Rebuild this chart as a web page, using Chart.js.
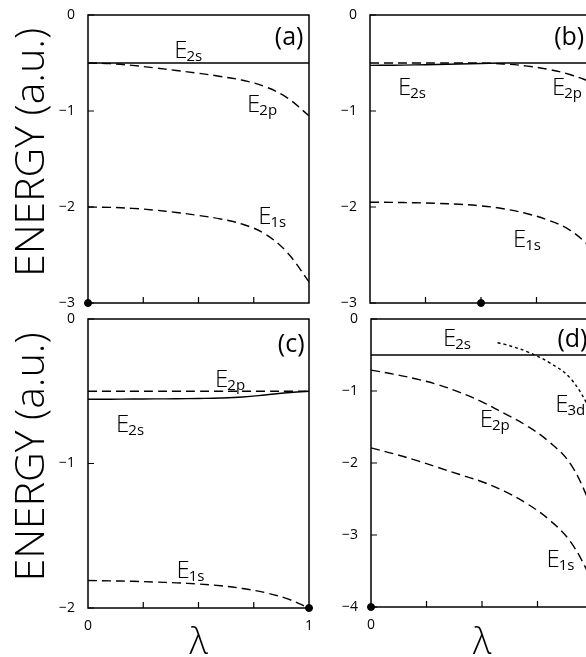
<!DOCTYPE html>
<html>
<head>
<meta charset="utf-8">
<script src="https://cdn.jsdelivr.net/npm/chart.js@4.4.0/dist/chart.umd.min.js"></script>
<style>
html, body { margin: 0; padding: 0; background: #fff; overflow: hidden; width: 586px; height: 657px; }
canvas { position: absolute; }
</style>
</head>
<body>
<canvas id="pa" width="320" height="320" style="left:0;top:0"></canvas>
<canvas id="pb" width="320" height="320" style="left:290px;top:0"></canvas>
<canvas id="pc" width="320" height="370" style="left:0;top:300px"></canvas>
<canvas id="pd" width="320" height="370" style="left:290px;top:300px"></canvas>
<script>
// --- DADOS ---
const lam = [0, 0.1, 0.2, 0.3, 0.4, 0.5, 0.6, 0.7, 0.8, 0.9, 1.0];
const lam3d = [0.57, 0.6, 0.7, 0.8, 0.9, 1.0];

// (a)
const aE2s = [-0.5, -0.5, -0.5, -0.5, -0.5, -0.5, -0.5, -0.5, -0.5, -0.5, -0.5];
const aE2p = [-0.5, -0.507, -0.525, -0.55, -0.578, -0.607, -0.64, -0.68, -0.745, -0.86, -1.05];
const aE1s = [-2.0, -2.004, -2.014, -2.032, -2.057, -2.088, -2.125, -2.18, -2.28, -2.47, -2.78];
// (b)
const bE2s = [-0.525, -0.523, -0.52, -0.515, -0.51, -0.505, -0.5, -0.5, -0.5, -0.5, -0.5];
const bE2p = [-0.5, -0.5, -0.5, -0.5, -0.5, -0.5, -0.51, -0.53, -0.565, -0.62, -0.7];
const bE1s = [-1.95, -1.952, -1.956, -1.962, -1.972, -1.988, -2.018, -2.065, -2.135, -2.24, -2.43];
// (c)
const cE2s = [-0.555, -0.555, -0.554, -0.553, -0.552, -0.55, -0.547, -0.54, -0.526, -0.51, -0.5];
const cE2p = [-0.5, -0.5, -0.5, -0.5, -0.5, -0.5, -0.5, -0.5, -0.5, -0.5, -0.5];
const cE1s = [-1.81, -1.812, -1.815, -1.82, -1.826, -1.834, -1.846, -1.865, -1.893, -1.935, -2.0];
// (d)
const dE2s = [-0.5, -0.5, -0.5, -0.5, -0.5, -0.5, -0.5, -0.5, -0.5, -0.5, -0.5];
const dE3d = [-0.33, -0.35, -0.45, -0.6, -0.83, -1.32];
const dE2p = [-0.71, -0.765, -0.83, -0.91, -1.02, -1.15, -1.31, -1.48, -1.7, -2.02, -2.65];
const dE1s = [-1.79, -1.87, -1.96, -2.06, -2.16, -2.26, -2.39, -2.56, -2.78, -3.1, -3.65];

// pontos marcados
const dotA = [0, -3];
const dotB = [0.5, -3];
const dotC = [1, -2];
const dotD = [0, -4];

// rótulos das curvas (posição em coordenadas dos dados)
const labA = [['E', '2s', 0.39, -0.45], ['E', '2p', 0.72, -1.01], ['E', '1s', 0.77, -2.18]];
const labB = [['E', '2s', 0.126, -0.83], ['E', '2p', 0.82, -0.83], ['E', '1s', 0.644, -2.42]];
const labC = [['E', '2p', 0.575, -0.47], ['E', '2s', 0.127, -0.78], ['E', '1s', 0.40, -1.79]];
const labD = [['E', '2s', 0.324, -0.375], ['E', '3d', 0.83, -1.29], ['E', '2p', 0.49, -1.5], ['E', '1s', 0.79, -3.44]];

const FONTE = "'Open Sans', 'DejaVu Sans', sans-serif";

function pts(xs, ys) { return xs.map((x, i) => ({ x, y: ys[i] })); }

function curva(xs, ys, estilo) {
    const dash = estilo === 'solid' ? [] : (estilo === 'dot' ? [3, 3] : [9, 5]);
    return {
        data: pts(xs, ys),
        borderColor: '#000',
        borderWidth: 1.4,
        borderDash: dash,
        pointRadius: 0,
        fill: false,
        tension: 0.4
    };
}

function ponto(p) {
    return {
        data: [{ x: p[0], y: p[1] }],
        showLine: false,
        pointRadius: 3.5,
        pointBackgroundColor: '#000',
        pointBorderColor: '#000',
        clip: false
    };
}

// moldura, marcas internas, rótulos com índice
const deco = {
    id: 'deco',
    afterDatasetsDraw(chart, args, opts) {
        const { ctx, chartArea: a, scales: { x, y } } = chart;
        ctx.save();
        ctx.strokeStyle = '#000';
        ctx.lineWidth = 1.5;
        ctx.strokeRect(a.left, a.top, a.right - a.left, a.bottom - a.top);
        ctx.lineWidth = 1.2;
        ctx.beginPath();
        x.ticks.forEach(t => {
            if (t.value <= 0 || t.value >= 1) return;
            const px = x.getPixelForValue(t.value);
            ctx.moveTo(px, a.bottom); ctx.lineTo(px, a.bottom - 6);
        });
        y.ticks.forEach(t => {
            const py = y.getPixelForValue(t.value);
            ctx.moveTo(a.left, py); ctx.lineTo(a.left + 6, py);
        });
        ctx.stroke();

        ctx.fillStyle = '#000';
        ctx.textBaseline = 'alphabetic';
        opts.labels.forEach(([m, s, lx, ly]) => {
            const px = x.getPixelForValue(lx), py = y.getPixelForValue(ly);
            ctx.font = '300 24px ' + FONTE;
            ctx.textAlign = 'left';
            ctx.fillText(m, px, py);
            const w = ctx.measureText(m).width;
            ctx.font = '400 15px ' + FONTE;
            ctx.fillText(s, px + w - 1, py + 3);
        });
        ctx.font = '400 25px ' + FONTE;
        ctx.textAlign = 'right';
        ctx.fillText(opts.letter, x.getPixelForValue(opts.letterAt[0]), y.getPixelForValue(opts.letterAt[1]));
        ctx.restore();
    }
};

function painel(id, cfg) {
    return new Chart(document.getElementById(id), {
        type: 'line',
        data: { datasets: cfg.datasets },
        options: {
            responsive: false,
            animation: false,
            devicePixelRatio: 1,
            layout: { padding: cfg.pad },
            plugins: {
                legend: { display: false },
                tooltip: { enabled: false },
                deco: { labels: cfg.labels, letter: cfg.letter, letterAt: cfg.letterAt }
            },
            scales: {
                x: {
                    type: 'linear', min: 0, max: 1,
                    grid: { display: false }, border: { display: false },
                    ticks: {
                        stepSize: 0.25, autoSkip: false, maxRotation: 0,
                        display: cfg.xLabels, padding: 2, color: '#000',
                        font: { family: FONTE, size: 14 },
                        callback: v => v === 0 ? '0' : (v === 1 ? '1' : '')
                    },
                    title: {
                        display: cfg.xLabels, text: 'λ', color: '#000',
                        font: { family: FONTE, size: 36, weight: '300', lineHeight: 1 },
                        padding: { top: 0, bottom: 8 }
                    },
                    afterFit: s => { s.height = cfg.xh; }
                },
                y: {
                    type: 'linear', min: cfg.ymin, max: 0,
                    grid: { display: false }, border: { display: false },
                    ticks: {
                        stepSize: 1, padding: 5, color: '#000',
                        font: { family: FONTE, size: 14 },
                        callback: v => v === 0 ? '0' : '\u2212' + Math.abs(v)
                    },
                    title: {
                        display: cfg.yTitle, text: '\u2009\u2009ENERGY (a.u.)', color: '#000',
                        font: { family: FONTE, size: 41, weight: '300', lineHeight: 1 },
                        padding: { top: 12, bottom: 0 }
                    },
                    afterFit: s => { s.width = cfg.yw; }
                }
            }
        },
        plugins: [deco]
    });
}

painel('pa', {
    datasets: [curva(lam, aE2s, 'solid'), curva(lam, aE2p, 'dash'), curva(lam, aE1s, 'dash'), ponto(dotA)],
    pad: { top: 15, right: 11, bottom: 0, left: 0 }, yw: 88, xh: 17, ymin: -3,
    xLabels: false, yTitle: true, labels: labA, letter: '(a)', letterAt: [0.975, -0.31]
});
painel('pb', {
    datasets: [curva(lam, bE2s, 'solid'), curva(lam, bE2p, 'dash'), curva(lam, bE1s, 'dash'), ponto(dotB)],
    pad: { top: 15, right: 18, bottom: 0, left: 0 }, yw: 80, xh: 17, ymin: -3,
    xLabels: false, yTitle: false, labels: labB, letter: '(b)', letterAt: [0.965, -0.31]
});
painel('pc', {
    datasets: [curva(lam, cE2s, 'solid'), curva(lam, cE2p, 'dash'), curva(lam, cE1s, 'dash'), ponto(dotC)],
    pad: { top: 19, right: 11, bottom: 0, left: 0 }, yw: 88, xh: 62, ymin: -2,
    xLabels: true, yTitle: true, labels: labC, letter: '(c)', letterAt: [0.98, -0.23]
});
painel('pd', {
    datasets: [curva(lam, dE2s, 'solid'), curva(lam3d, dE3d, 'dot'), curva(lam, dE2p, 'dash'), curva(lam, dE1s, 'dash'), ponto(dotD)],
    pad: { top: 19, right: 17, bottom: 0, left: 0 }, yw: 81, xh: 63, ymin: -4,
    xLabels: true, yTitle: false, labels: labD, letter: '(d)', letterAt: [0.975, -0.39]
});
</script>
</body>
</html>
